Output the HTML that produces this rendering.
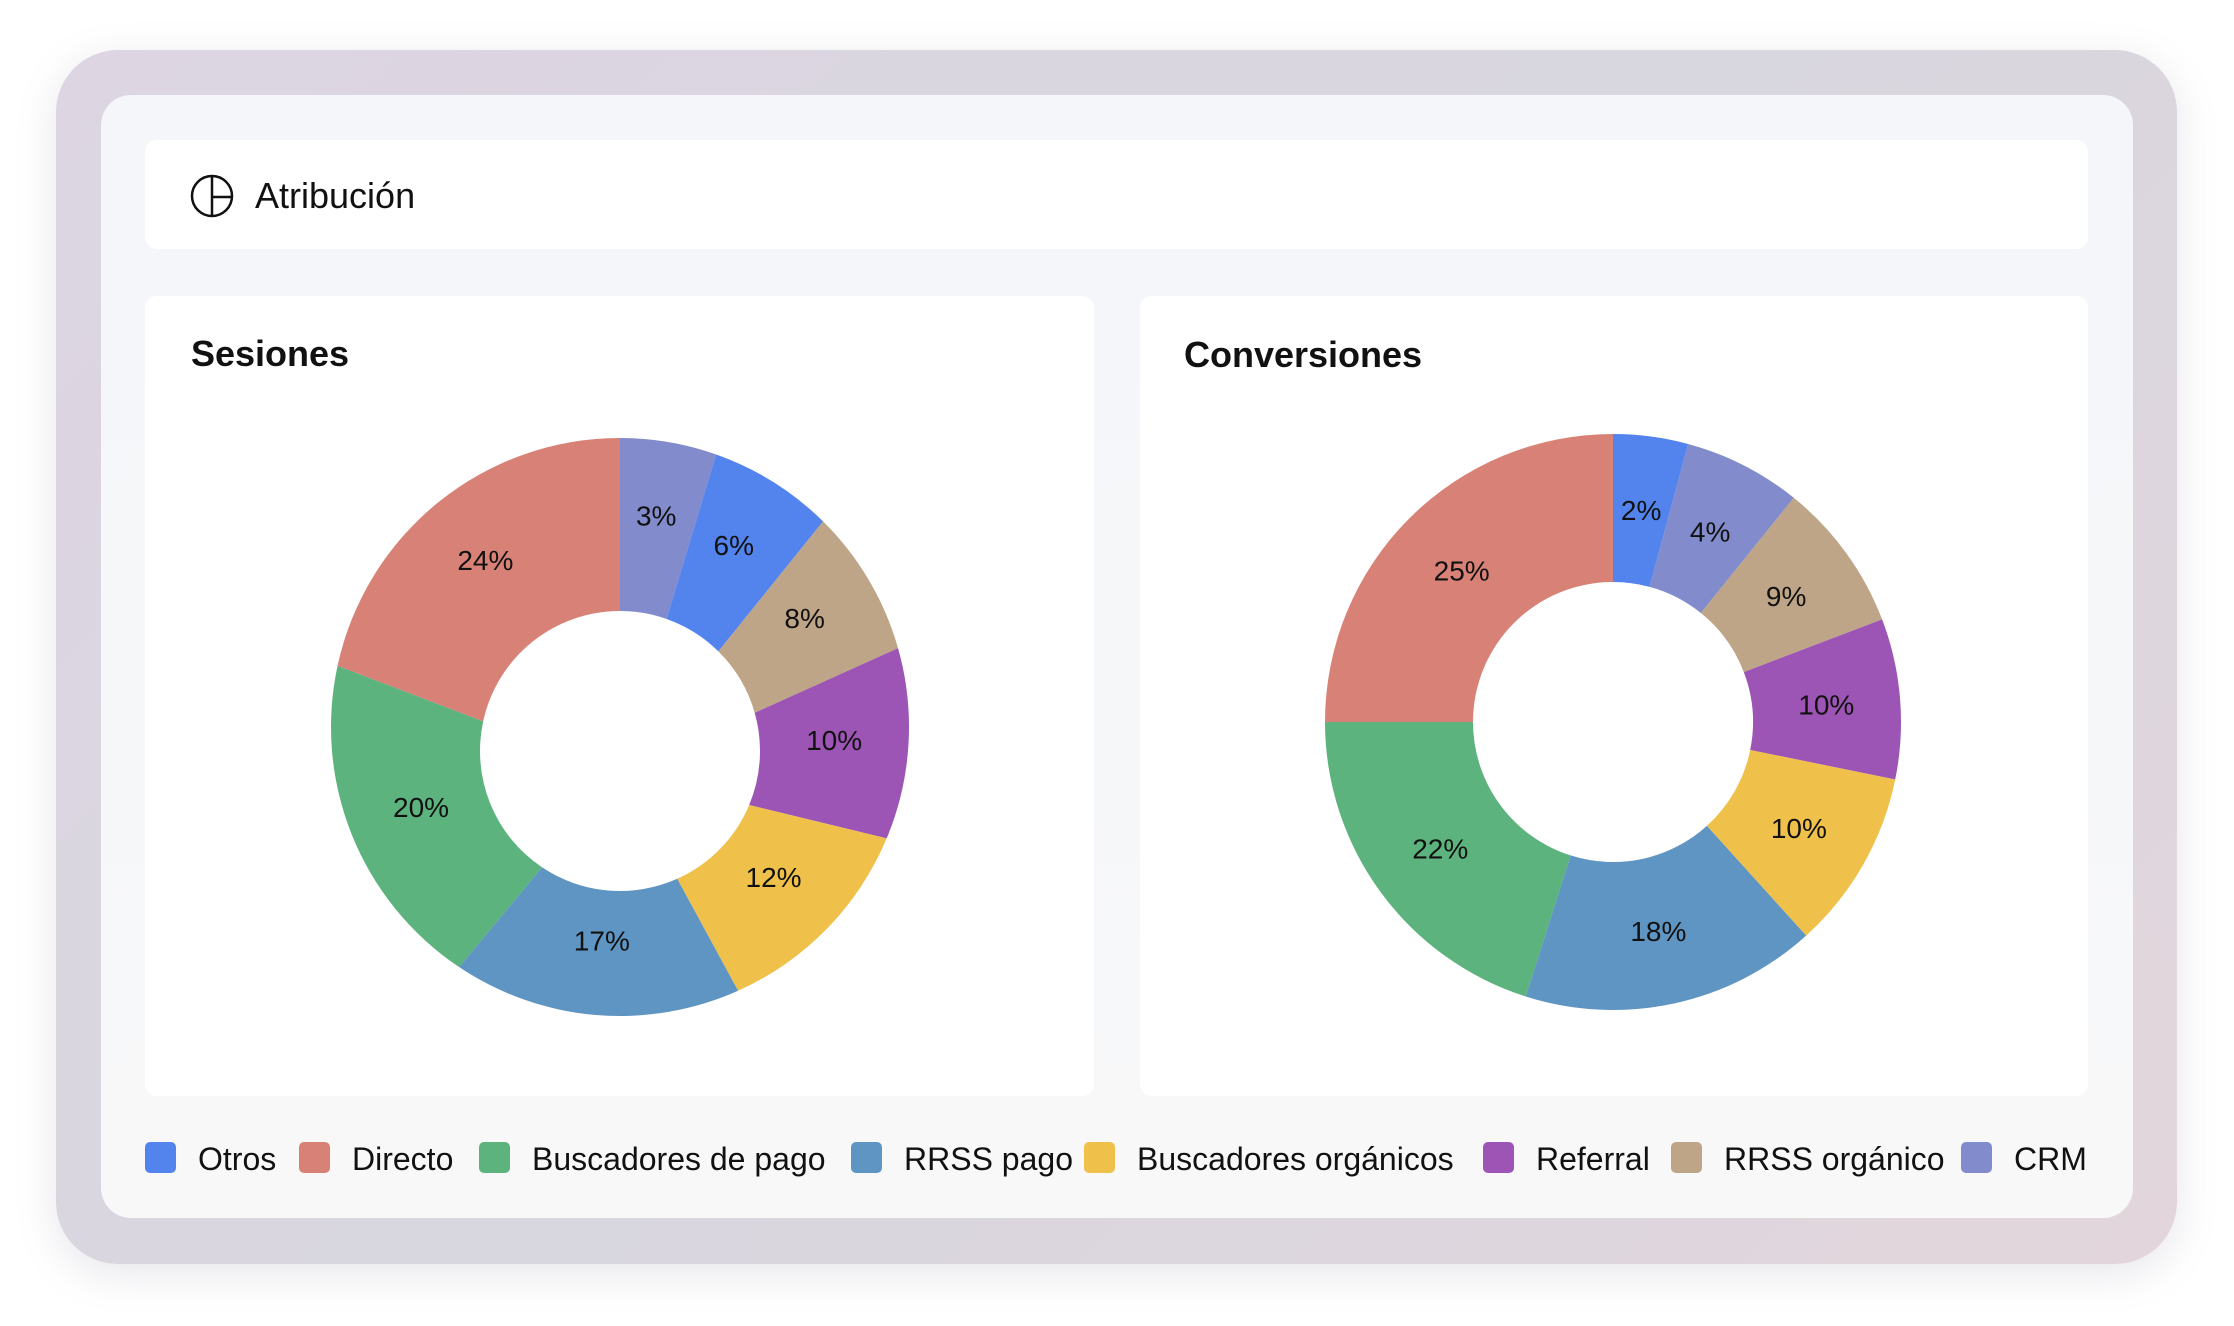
<!DOCTYPE html>
<html><head><meta charset="utf-8"><style>
body{margin:0;width:2234px;height:1326px;background:#fff;position:relative;overflow:hidden;font-family:"Liberation Sans",sans-serif;}
.abs{position:absolute;}
#outer{left:56px;top:50px;width:2121px;height:1214px;border-radius:62px;background:linear-gradient(135deg,#ddd5e2,#d8d6df 50%,#e2d6dc);box-shadow:0 10px 40px rgba(120,110,140,0.18);}
#inner{left:101px;top:95px;width:2032px;height:1123px;border-radius:30px;background:linear-gradient(#f4f6f9,#f8f8f9);}
.panel{background:#fff;border-radius:12px;}
.leg-sq{width:31px;height:31px;border-radius:5px;top:1142px;}
.leg-tx{top:1137px;font-size:32px;color:#111;line-height:44px;}
</style></head><body>
<div id="outer" class="abs"></div>
<div id="inner" class="abs"></div>
<div class="abs panel" style="left:145px;top:140px;width:1943px;height:109px;"></div>
<svg class="abs" style="left:190px;top:174px" width="44" height="44"><circle cx="22" cy="22" r="20" fill="none" stroke="#111" stroke-width="2.5"/><line x1="22" y1="2" x2="22" y2="42" stroke="#111" stroke-width="2.5"/><line x1="22" y1="23" x2="42" y2="23" stroke="#111" stroke-width="2.5"/></svg>
<div class="abs" style="left:255px;top:175px;font-size:36px;color:#111;">Atribución</div>
<div class="abs panel" style="left:145px;top:296px;width:949px;height:800px;"></div>
<div class="abs panel" style="left:1140px;top:296px;width:948px;height:800px;"></div>
<div class="abs" style="left:191px;top:333px;font-size:36px;font-weight:bold;color:#111;">Sesiones</div>
<div class="abs" style="left:1184px;top:334px;font-size:36px;font-weight:bold;color:#111;">Conversiones</div>
<svg id="chart" class="abs" style="left:0;top:0" width="2234" height="1326"></svg>
<div id="legend"></div>
<script>
const categories=["Otros","Directo","Buscadores de pago","RRSS pago","Buscadores orgánicos","Referral","RRSS orgánico","CRM"];
const colors={"Otros":"#5383ec","Directo":"#d88277","Buscadores de pago":"#5db37e","RRSS pago":"#5f95c2","Buscadores orgánicos":"#efc14b","Referral":"#9c55b5","RRSS orgánico":"#bfa587","CRM":"#828bcb"};
const sesOrder=["CRM","Otros","RRSS orgánico","Referral","Buscadores orgánicos","RRSS pago","Buscadores de pago","Directo"];
const sesValues=[5.4,7,8.2,10.7,12,16.1,19,21.6];
const sesLabels=["3%","6%","8%","10%","12%","17%","20%","24%"];
const convOrder=["Otros","CRM","RRSS orgánico","Referral","Buscadores orgánicos","RRSS pago","Buscadores de pago","Directo"];
const convValues=[4.2,6.6,8.4,9,10.1,16.6,20.1,25];
const convLabels=["2%","4%","9%","10%","10%","18%","22%","25%"];
const legendX=[145,299,479,851,1084,1483,1671,1961];
const NS="http://www.w3.org/2000/svg";
const svg=document.getElementById('chart');
function pt(cx,cy,r,a){return [cx+r*Math.sin(a),cy-r*Math.cos(a)];}
function donut(name,cx,cy,R,r,holeDy,order,vals,labels){
  const tot=vals.reduce((a,b)=>a+b,0);let acc=0;
  vals.forEach((v,i)=>{
    const a0=acc/tot*2*Math.PI;acc+=v;const a1=acc/tot*2*Math.PI;
    const lg=(a1-a0)>Math.PI?1:0;
    const p1=pt(cx,cy,R,a0),p2=pt(cx,cy,R,a1),p3=pt(cx,cy+holeDy,r,a1),p4=pt(cx,cy+holeDy,r,a0);
    const p=document.createElementNS(NS,'path');
    p.setAttribute('d',`M${p1}A${R},${R} 0 ${lg} 1 ${p2}L${p3}A${r},${r} 0 ${lg} 0 ${p4}Z`);
    p.setAttribute('fill',colors[order[i]]);
    
    
    svg.appendChild(p);
    const m=pt(cx,cy,(R+r)/2,(a0+a1)/2);
    const t=document.createElementNS(NS,'text');
    t.setAttribute('x',m[0]);t.setAttribute('y',m[1]+10);
    t.setAttribute('text-anchor','middle');t.setAttribute('font-size','28');t.setAttribute('fill','#111');
    t.setAttribute('font-family','Liberation Sans, sans-serif');
    t.textContent=labels[i];
    
    
    svg.appendChild(t);
  });
}
donut('sessions',620,727,289,140,24,sesOrder,sesValues,sesLabels);
donut('conversions',1613,722,288,140,0,convOrder,convValues,convLabels);
const lg=document.getElementById('legend');
categories.forEach((c,i)=>{
  const s=document.createElement('div');s.className='abs leg-sq';
  s.style.left=legendX[i]+'px';s.style.background=colors[c];
  
  
  lg.appendChild(s);
  const t=document.createElement('div');t.className='abs leg-tx';
  t.style.left=(legendX[i]+53)+'px';t.textContent=c;
  
  
  lg.appendChild(t);
});
</script>
</body></html>
